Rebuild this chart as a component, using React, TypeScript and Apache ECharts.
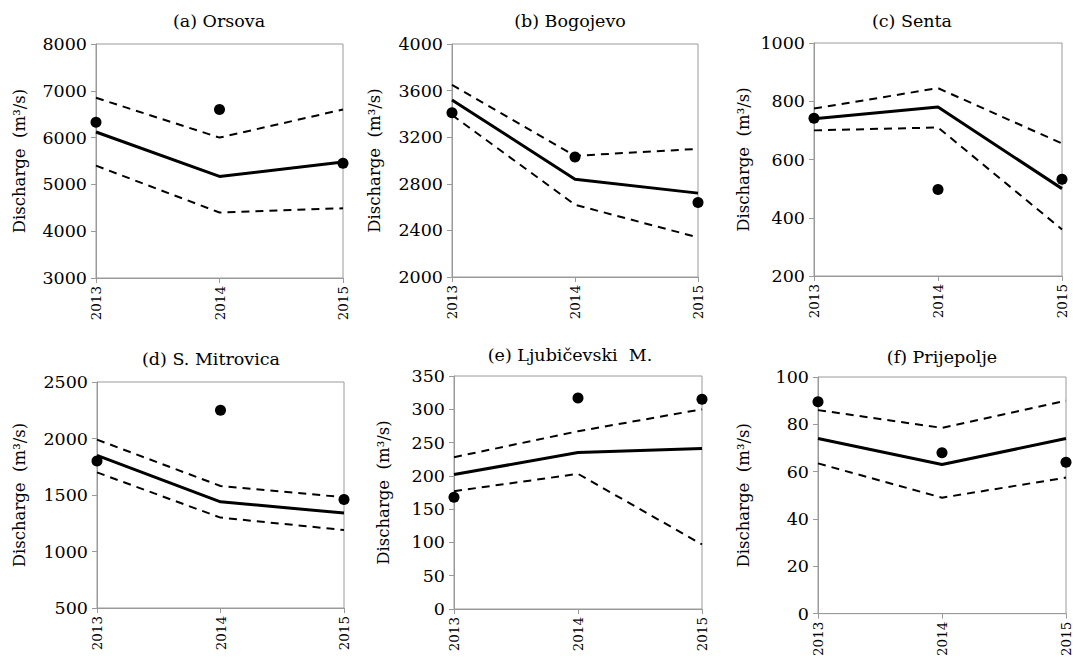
import React, { useEffect, useRef } from "react";
import * as echarts from "echarts";

const years = ["2013", "2014", "2015"];
const titles = [
  "(a) Orsova",
  "(b) Bogojevo",
  "(c) Senta",
  "(d) S. Mitrovica",
  "(e) Ljubičevski  M.",
  "(f) Prijepolje",
];

const orsovaUpper = [6850, 6000, 6600];
const orsovaMean = [6120, 5170, 5480];
const orsovaLower = [5400, 4400, 4490];
const orsovaObs = [6330, 6600, 5450];

const bogojevoUpper = [3650, 3040, 3100];
const bogojevoMean = [3520, 2840, 2720];
const bogojevoLower = [3390, 2620, 2340];
const bogojevoObs = [3410, 3030, 2640];

const sentaUpper = [775, 845, 655];
const sentaMean = [740, 780, 500];
const sentaLower = [700, 710, 360];
const sentaObs = [742, 497, 532];

const mitrovicaUpper = [1990, 1580, 1480];
const mitrovicaMean = [1850, 1440, 1340];
const mitrovicaLower = [1700, 1300, 1190];
const mitrovicaObs = [1800, 2250, 1460];

const ljubicevskiUpper = [228, 267, 300];
const ljubicevskiMean = [202, 235, 241];
const ljubicevskiLower = [177, 203, 97];
const ljubicevskiObs = [168, 317, 315];

const prijepoljeUpper = [86, 78.5, 90];
const prijepoljeMean = [74, 63, 74];
const prijepoljeLower = [63.5, 49, 57.5];
const prijepoljeObs = [89.5, 68, 64];

const yMins = [3000, 2000, 200, 500, 0, 0];
const yMaxs = [8000, 4000, 1000, 2500, 350, 100];
const yIntervals = [1000, 400, 200, 500, 50, 20];

const panels = [
  [orsovaUpper, orsovaMean, orsovaLower, orsovaObs],
  [bogojevoUpper, bogojevoMean, bogojevoLower, bogojevoObs],
  [sentaUpper, sentaMean, sentaLower, sentaObs],
  [mitrovicaUpper, mitrovicaMean, mitrovicaLower, mitrovicaObs],
  [ljubicevskiUpper, ljubicevskiMean, ljubicevskiLower, ljubicevskiObs],
  [prijepoljeUpper, prijepoljeMean, prijepoljeLower, prijepoljeObs],
];

// layout (pixels)
const grids = [
  { left: 96, top: 44, width: 247, height: 234 },
  { left: 452, top: 44, width: 246, height: 233 },
  { left: 814, top: 43, width: 248, height: 233 },
  { left: 97, top: 382, width: 247, height: 226 },
  { left: 454, top: 376, width: 248, height: 233 },
  { left: 818, top: 377, width: 248, height: 237 },
];
const titlePos = [
  [219, 21],
  [570, 21],
  [912, 21],
  [211, 359],
  [570, 355],
  [942, 357],
];
const nameGaps = [68, 69, 62, 69, 62, 66];

const FONT = "DejaVu Serif";
const GRAY = "#9a9a9a";

export default function App() {
  const ref = useRef<HTMLDivElement>(null);
  useEffect(() => {
    if (!ref.current) return;
    const chart = echarts.init(ref.current, undefined, { renderer: "svg" });
    const grid = grids.map((g) => ({
      ...g,
      show: true,
      borderColor: GRAY,
      borderWidth: 1,
      backgroundColor: "transparent",
      containLabel: false,
    }));
    const xAxis = grids.map((_, i) => ({
      type: "category",
      gridIndex: i,
      data: years,
      boundaryGap: false,
      axisLine: { lineStyle: { color: GRAY, width: 1 } },
      axisTick: { show: true, length: 5, lineStyle: { color: GRAY } },
      axisLabel: {
        rotate: 90,
        margin: 8,
        color: "#000",
        fontFamily: FONT,
        fontSize: 13.5,
      },
      splitLine: { show: false },
    }));
    const yAxis = grids.map((_, i) => ({
      type: "value",
      gridIndex: i,
      min: yMins[i],
      max: yMaxs[i],
      interval: yIntervals[i],
      name: "Discharge  (m³/s)",
      nameLocation: "middle",
      nameRotate: 90,
      nameGap: nameGaps[i],
      nameTextStyle: { color: "#000", fontFamily: FONT, fontSize: 16.5 },
      axisLine: { show: true, lineStyle: { color: GRAY, width: 1 } },
      axisTick: { show: true, length: 5, lineStyle: { color: GRAY } },
      axisLabel: {
        margin: 9,
        color: "#000",
        fontFamily: FONT,
        fontSize: 17.5,
        formatter: (v: number) => String(v),
      },
      splitLine: { show: false },
    }));
    const series: any[] = [];
    panels.forEach((p, i) => {
      const [upper, mean, lower, obs] = p;
      const dashed = {
        type: "line",
        xAxisIndex: i,
        yAxisIndex: i,
        symbol: "none",
        lineStyle: { color: "#000", width: 2, type: [8, 6] },
        silent: true,
      };
      series.push({ ...dashed, data: upper });
      series.push({ ...dashed, data: lower });
      series.push({
        type: "line",
        xAxisIndex: i,
        yAxisIndex: i,
        symbol: "none",
        lineStyle: { color: "#000", width: 3 },
        data: mean,
        silent: true,
      });
      series.push({
        type: "scatter",
        xAxisIndex: i,
        yAxisIndex: i,
        symbol: "circle",
        symbolSize: 11,
        itemStyle: { color: "#000", opacity: 1 },
        data: obs,
        clip: false,
        silent: true,
      });
    });
    const graphic = titles.map((t, i) => ({
      type: "text",
      x: titlePos[i][0],
      y: titlePos[i][1],
      style: {
        text: t,
        fill: "#000",
        font: "17.5px DejaVu Serif",
        align: "center",
        verticalAlign: "middle",
      },
    }));
    chart.setOption({
      animation: false,
      backgroundColor: "#fff",
      grid,
      xAxis,
      yAxis,
      series,
      graphic,
    });
    return () => chart.dispose();
  }, []);
  return (
    <div
      ref={ref}
      style={{ position: "absolute", left: 0, top: 0, width: 1073, height: 659 }}
    />
  );
}
